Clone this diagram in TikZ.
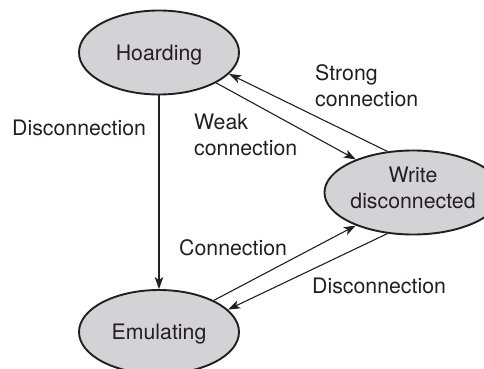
\documentclass[tikz,border=0pt]{standalone}
\usepackage{fontspec}
\setmainfont{TeX Gyre Heros}
\usetikzlibrary{shapes.geometric,arrows.meta}
\definecolor{ellfill}{RGB}{211,211,213}
\definecolor{inkc}{RGB}{35,31,32}
\tikzset{
  state/.style={ellipse, draw=inkc, line width=1.9pt, fill=ellfill,
    minimum width=160pt, minimum height=84pt, inner sep=0pt,
    text=inkc, align=center, font=\fontsize{21.3}{26}\selectfont},
  lbl/.style={anchor=west, inner sep=0pt, text=inkc, align=left,
    font=\fontsize{21.3}{26}\selectfont},
  conn/.style={draw=inkc, line width=1.1pt,
    -{Stealth[length=12pt,width=8.5pt,inset=3pt]}}
}
\begin{document}
\begin{tikzpicture}[x=1pt,y=-1pt]
\useasboundingbox (0,0) rectangle (484,369);
\clip (0,0) rectangle (484,369);
\node[state, text depth=0pt] (H) at (159,52.5) {Hoarding};
\node[state, text depth=10pt] (W) at (413,192.5) {Write\\disconnected};
\node[state, text depth=0pt] (E) at (159,332) {Emulating};

\draw[conn] (H.south) -- (E.north);
\draw[conn] (H.-28) -- (W.150);
\draw[conn] (W.122) -- (H.-17);
\draw[conn] (E.30) -- (W.210);
\draw[conn] (W.238) -- (E.18);

\node[lbl] (l1) at (12,128) {Disconnection};
\node[lbl] (l2) at (194,135) {Weak\\connection};
\node[lbl] (l3) at (315,86) {Strong\\connection};
\node[lbl] (l4) at (179,248) {Connection};
\node[lbl] (l5) at (312,286) {Disconnection};
\end{tikzpicture}
\end{document}
